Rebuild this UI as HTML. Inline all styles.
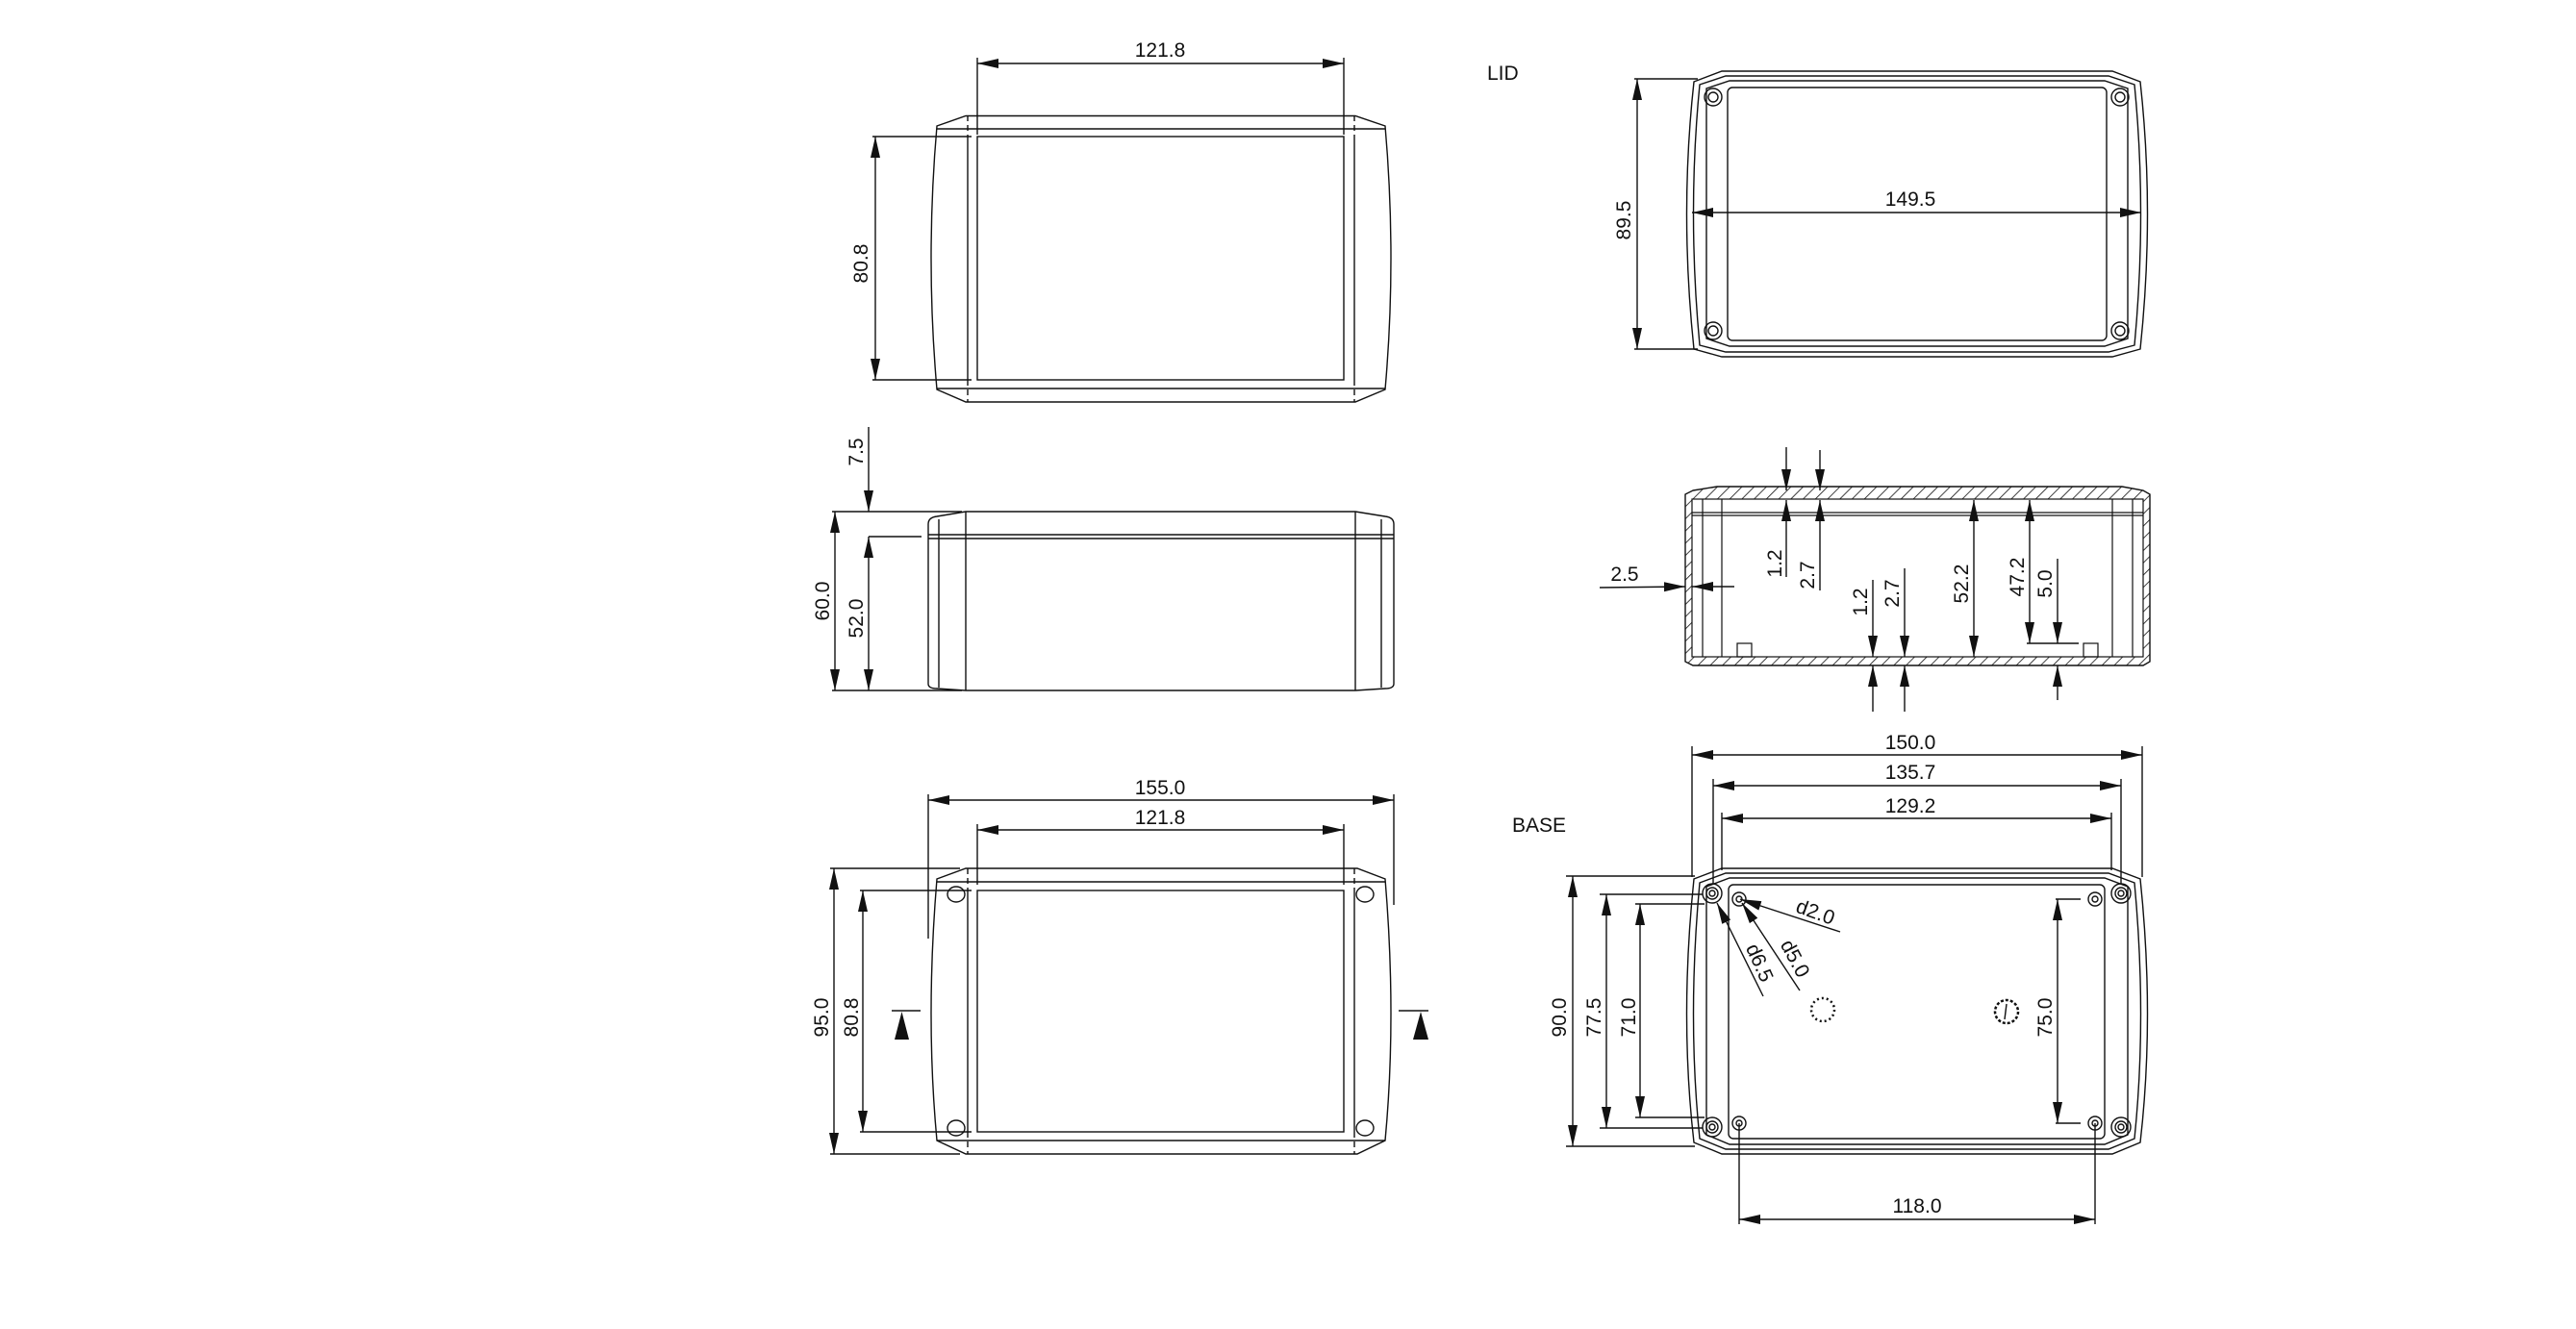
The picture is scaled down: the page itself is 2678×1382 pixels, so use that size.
<!DOCTYPE html>
<html><head><meta charset="utf-8"><style>
html,body{margin:0;padding:0;background:#fff}
svg{display:block}
text{font-family:"Liberation Sans",sans-serif;font-size:21px;fill:#111}
</style></head><body>
<svg width="2678" height="1382" viewBox="0 0 2678 1382" xmlns="http://www.w3.org/2000/svg">
<defs>
<marker id="a" markerUnits="userSpaceOnUse" markerWidth="24" markerHeight="12" refX="22" refY="5" orient="auto"><path d="M0,0 L22,5 L0,10 z" fill="#111"/></marker>
<marker id="b" markerUnits="userSpaceOnUse" markerWidth="24" markerHeight="12" refX="0" refY="5" orient="auto"><path d="M22,0 L0,5 L22,10 z" fill="#111"/></marker>
<pattern id="h" patternUnits="userSpaceOnUse" width="9" height="9" patternTransform="rotate(45)"><rect width="9" height="9" fill="#fff"/><line x1="0" y1="0" x2="0" y2="9" stroke="#111" stroke-width="1.6"/></pattern>
</defs>
<g fill="none" stroke="#111" stroke-width="1.4">

<path d="M1004,120.5 L1409,120.5 L1440,131 Q1452,269 1440,405 L1409,418 L1004,418 L974,405 Q962,269 974,131 Z"/>
<line x1="974" y1="134" x2="1440" y2="134"/>
<line x1="974" y1="404" x2="1440" y2="404"/>
<line x1="1006" y1="120" x2="1006" y2="142" stroke-dasharray="6,4"/>
<line x1="1006" y1="395" x2="1006" y2="418" stroke-dasharray="6,4"/>
<line x1="1408" y1="120" x2="1408" y2="142" stroke-dasharray="6,4"/>
<line x1="1408" y1="395" x2="1408" y2="418" stroke-dasharray="6,4"/>
<line x1="1006" y1="142" x2="1006" y2="395"/>
<line x1="1408" y1="142" x2="1408" y2="395"/>
<rect x="1016" y="142" width="381" height="253"/>
<line x1="1016" y1="66" x2="1397" y2="66" marker-start="url(#b)" marker-end="url(#a)"/>
<line x1="1016" y1="60" x2="1016" y2="140"/><line x1="1397" y1="60" x2="1397" y2="140"/>
<line x1="910" y1="142" x2="910" y2="395" marker-start="url(#b)" marker-end="url(#a)"/>
<line x1="907" y1="142" x2="1010" y2="142"/><line x1="907" y1="395" x2="1010" y2="395"/>

<path d="M1004,532 L1409,532 L1440,537 Q1449,538 1449,545 L1449,711 Q1449,716 1440,716 L1409,718 L1004,718 L974,716 Q965,716 965,711 L965,545 Q965,538 974,537 Z"/>
<line x1="965" y1="556" x2="1449" y2="556"/>
<line x1="965" y1="560" x2="1449" y2="560"/>
<line x1="976" y1="540" x2="976" y2="715"/><line x1="1436" y1="540" x2="1436" y2="715"/>
<line x1="1004" y1="532" x2="1004" y2="718"/><line x1="1409" y1="532" x2="1409" y2="718"/>
<line x1="903" y1="444" x2="903" y2="532" marker-end="url(#a)"/>
<line x1="865" y1="532" x2="1000" y2="532"/>
<line x1="868" y1="532" x2="868" y2="718" marker-start="url(#b)" marker-end="url(#a)"/>
<line x1="903" y1="558" x2="903" y2="718" marker-start="url(#b)" marker-end="url(#a)"/>
<line x1="903" y1="558" x2="958" y2="558"/>
<line x1="865" y1="718" x2="1000" y2="718"/>

<path d="M1004,903 L1411,903 L1440,914 Q1452,1058 1440,1186 L1411,1200 L1004,1200 L974,1186 Q962,1058 974,914 Z"/>
<line x1="974" y1="917" x2="1440" y2="917"/>
<line x1="974" y1="1186" x2="1440" y2="1186"/>
<line x1="1006" y1="903" x2="1006" y2="926" stroke-dasharray="6,4"/>
<line x1="1006" y1="1177" x2="1006" y2="1200" stroke-dasharray="6,4"/>
<line x1="1408" y1="903" x2="1408" y2="926" stroke-dasharray="6,4"/>
<line x1="1408" y1="1177" x2="1408" y2="1200" stroke-dasharray="6,4"/>
<line x1="1006" y1="926" x2="1006" y2="1177"/>
<line x1="1408" y1="926" x2="1408" y2="1177"/>
<rect x="1016" y="926" width="381" height="251"/>
<ellipse cx="994" cy="930" rx="9" ry="8"/><ellipse cx="1419" cy="930" rx="9" ry="8"/>
<ellipse cx="994" cy="1173" rx="9" ry="8"/><ellipse cx="1419" cy="1173" rx="9" ry="8"/>
<line x1="965" y1="832" x2="1449" y2="832" marker-start="url(#b)" marker-end="url(#a)"/>
<line x1="965" y1="826" x2="965" y2="976"/><line x1="1449" y1="826" x2="1449" y2="941"/>
<line x1="1016" y1="863" x2="1397" y2="863" marker-start="url(#b)" marker-end="url(#a)"/>
<line x1="1016" y1="857" x2="1016" y2="920"/><line x1="1397" y1="857" x2="1397" y2="920"/>
<line x1="867" y1="903" x2="867" y2="1200" marker-start="url(#b)" marker-end="url(#a)"/>
<line x1="863" y1="903" x2="998" y2="903"/><line x1="863" y1="1200" x2="998" y2="1200"/>
<line x1="897" y1="926" x2="897" y2="1177" marker-start="url(#b)" marker-end="url(#a)"/>
<line x1="894" y1="926" x2="1010" y2="926"/><line x1="894" y1="1177" x2="1010" y2="1177"/>
<line x1="927" y1="1051" x2="957" y2="1051"/>
<line x1="1454" y1="1051" x2="1485" y2="1051"/>
</g>
<path d="M937.5,1052 L930,1081 L945,1081 Z" fill="#111"/>
<path d="M1477,1052 L1469,1081 L1485,1081 Z" fill="#111"/>

<g fill="none" stroke="#111" stroke-width="1.4">
<path d="M1790,74 L2196,74 L2225,85 Q2240,221 2225,363 L2196,371 L1790,371 L1761,363 Q1746,221 1761,85 Z"/>
<path d="M1794,79 L2192,79 L2219,88 Q2232,221 2219,359 L2192,366 L1794,366 L1767,359 Q1754,221 1767,88 Z"/>
<path d="M1798,84 L2188,84 L2212,92 L2212,352 L2188,360 L1798,360 L1774,352 L1774,92 Z"/>
<rect x="1796" y="91" width="394" height="263" rx="5"/>
<circle cx="1781" cy="101" r="9"/><circle cx="1781" cy="101" r="5"/>
<circle cx="2204" cy="101" r="9"/><circle cx="2204" cy="101" r="5"/>
<circle cx="1781" cy="344" r="9"/><circle cx="1781" cy="344" r="5"/>
<circle cx="2204" cy="344" r="9"/><circle cx="2204" cy="344" r="5"/>
<line x1="1702" y1="82" x2="1702" y2="363" marker-start="url(#b)" marker-end="url(#a)"/>
<line x1="1699" y1="82" x2="1765" y2="82"/><line x1="1699" y1="363" x2="1765" y2="363"/>
<line x1="1759" y1="221" x2="2226" y2="221" marker-start="url(#b)" marker-end="url(#a)"/>
</g>

<path d="M1760,510 L1785,506 L2206,506 L2228,510 L2235,514 L2235,688 L2228,692 L1760,692 L1752,688 L1752,514 Z" fill="url(#h)" stroke="#111" stroke-width="1.4"/>
<rect x="1759" y="519" width="469" height="164" fill="#fff" stroke="#111" stroke-width="1.2"/>
<g fill="none" stroke="#111" stroke-width="1.2">
<line x1="1759" y1="533" x2="2228" y2="533"/><line x1="1759" y1="536" x2="2228" y2="536"/>
<line x1="1770" y1="519" x2="1770" y2="683"/><line x1="1790" y1="519" x2="1790" y2="683"/>
<line x1="2196" y1="519" x2="2196" y2="683"/><line x1="2217" y1="519" x2="2217" y2="683"/>
<rect x="1806" y="669" width="15" height="14"/><rect x="2166" y="669" width="15" height="14"/>
</g>
<g fill="none" stroke="#111" stroke-width="1.4">
<line x1="1857" y1="465" x2="1857" y2="510" marker-end="url(#a)"/>
<line x1="1857" y1="600" x2="1857" y2="520" marker-end="url(#a)"/>
<line x1="1892" y1="468" x2="1892" y2="510" marker-end="url(#a)"/>
<line x1="1892" y1="614" x2="1892" y2="520" marker-end="url(#a)"/>
<line x1="1663" y1="611" x2="1752" y2="610" marker-end="url(#a)"/>
<line x1="1803" y1="610" x2="1759" y2="610" marker-end="url(#a)"/>
<line x1="1947" y1="603" x2="1947" y2="683" marker-end="url(#a)"/>
<line x1="1947" y1="740" x2="1947" y2="692" marker-end="url(#a)"/>
<line x1="1980" y1="591" x2="1980" y2="683" marker-end="url(#a)"/>
<line x1="1980" y1="740" x2="1980" y2="692" marker-end="url(#a)"/>
<line x1="2052" y1="520" x2="2052" y2="683" marker-start="url(#b)" marker-end="url(#a)"/>
<line x1="2110" y1="520" x2="2110" y2="669" marker-start="url(#b)" marker-end="url(#a)"/>
<line x1="2107" y1="669" x2="2161" y2="669"/>
<line x1="2139" y1="581" x2="2139" y2="669" marker-end="url(#a)"/>
<line x1="2139" y1="728" x2="2139" y2="692" marker-end="url(#a)"/>

<path d="M1790,903 L2196,903 L2225,914 Q2240,1058 2225,1188 L2196,1200 L1790,1200 L1761,1188 Q1746,1058 1761,914 Z"/>
<path d="M1794,908 L2192,908 L2219,918 Q2232,1058 2219,1184 L2192,1195 L1794,1195 L1767,1184 Q1754,1058 1767,918 Z"/>
<path d="M1798,913 L2188,913 L2212,922 L2212,1180 L2188,1190 L1798,1190 L1774,1180 L1774,922 Z"/>
<rect x="1797" y="920" width="391" height="264" rx="5"/>
<circle cx="1780" cy="929" r="10"/><circle cx="1780" cy="929" r="6"/><circle cx="1780" cy="929" r="3"/>
<circle cx="2205" cy="929" r="10"/><circle cx="2205" cy="929" r="6"/><circle cx="2205" cy="929" r="3"/>
<circle cx="1780" cy="1172" r="10"/><circle cx="1780" cy="1172" r="6"/><circle cx="1780" cy="1172" r="3"/>
<circle cx="2205" cy="1172" r="10"/><circle cx="2205" cy="1172" r="6"/><circle cx="2205" cy="1172" r="3"/>
<circle cx="1808" cy="935" r="7"/><circle cx="1808" cy="935" r="3"/>
<circle cx="2178" cy="935" r="7"/><circle cx="2178" cy="935" r="3"/>
<circle cx="1808" cy="1168" r="7"/><circle cx="1808" cy="1168" r="3"/>
<circle cx="2178" cy="1168" r="7"/><circle cx="2178" cy="1168" r="3"/>
<circle cx="1895" cy="1050" r="12" stroke-dasharray="2,3" stroke-width="2.5"/>
<circle cx="2086" cy="1052" r="12" stroke-dasharray="3,2" stroke-width="2.5"/>
<line x1="2086" y1="1044" x2="2084" y2="1060"/>
<line x1="1759" y1="785" x2="2227" y2="785" marker-start="url(#b)" marker-end="url(#a)"/>
<line x1="1759" y1="776" x2="1759" y2="912"/><line x1="2227" y1="776" x2="2227" y2="912"/>
<line x1="1781" y1="817" x2="2205" y2="817" marker-start="url(#b)" marker-end="url(#a)"/>
<line x1="1781" y1="810" x2="1781" y2="920"/><line x1="2205" y1="810" x2="2205" y2="920"/>
<line x1="1790" y1="851" x2="2195" y2="851" marker-start="url(#b)" marker-end="url(#a)"/>
<line x1="1790" y1="845" x2="1790" y2="905"/><line x1="2195" y1="845" x2="2195" y2="905"/>
<line x1="1635" y1="911" x2="1635" y2="1192" marker-start="url(#b)" marker-end="url(#a)"/>
<line x1="1628" y1="911" x2="1762" y2="911"/><line x1="1628" y1="1192" x2="1762" y2="1192"/>
<line x1="1670" y1="930" x2="1670" y2="1173" marker-start="url(#b)" marker-end="url(#a)"/>
<line x1="1663" y1="930" x2="1770" y2="930"/><line x1="1663" y1="1173" x2="1770" y2="1173"/>
<line x1="1705" y1="940" x2="1705" y2="1162" marker-start="url(#b)" marker-end="url(#a)"/>
<line x1="1700" y1="940" x2="1772" y2="940"/><line x1="1700" y1="1162" x2="1772" y2="1162"/>
<line x1="2139" y1="935" x2="2139" y2="1168" marker-start="url(#b)" marker-end="url(#a)"/>
<line x1="2137" y1="935" x2="2163" y2="935"/><line x1="2137" y1="1168" x2="2163" y2="1168"/>
<line x1="1808" y1="1268" x2="2178" y2="1268" marker-start="url(#b)" marker-end="url(#a)"/>
<line x1="1808" y1="1168" x2="1808" y2="1273"/><line x1="2178" y1="1168" x2="2178" y2="1273"/>
<line x1="1913" y1="969" x2="1809" y2="935" marker-end="url(#a)"/>
<line x1="1871" y1="1030" x2="1811" y2="939" marker-end="url(#a)"/>
<line x1="1833" y1="1036" x2="1785" y2="939" marker-end="url(#a)"/>
</g>

<g text-anchor="middle">
<text x="1206" y="59">121.8</text>
<text transform="translate(902,274) rotate(-90)">80.8</text>
<text transform="translate(897,470) rotate(-90)">7.5</text>
<text transform="translate(862,625) rotate(-90)">60.0</text>
<text transform="translate(897,643) rotate(-90)">52.0</text>
<text x="1206" y="826">155.0</text>
<text x="1206" y="857">121.8</text>
<text transform="translate(861,1058) rotate(-90)">95.0</text>
<text transform="translate(892,1058) rotate(-90)">80.8</text>
<text transform="translate(1695,229) rotate(-90)">89.5</text>
<text x="1986" y="214">149.5</text>
<text x="1689" y="604">2.5</text>
<text transform="translate(1852,586) rotate(-90)">1.2</text>
<text transform="translate(1886,598) rotate(-90)">2.7</text>
<text transform="translate(1941,626) rotate(-90)">1.2</text>
<text transform="translate(1974,617) rotate(-90)">2.7</text>
<text transform="translate(2046,607) rotate(-90)">52.2</text>
<text transform="translate(2104,600) rotate(-90)">47.2</text>
<text transform="translate(2133,607) rotate(-90)">5.0</text>
<text x="1986" y="779">150.0</text>
<text x="1986" y="810">135.7</text>
<text x="1986" y="845">129.2</text>
<text transform="translate(1628,1058) rotate(-90)">90.0</text>
<text transform="translate(1664,1058) rotate(-90)">77.5</text>
<text transform="translate(1700,1058) rotate(-90)">71.0</text>
<text transform="translate(2133,1058) rotate(-90)">75.0</text>
<text x="1993" y="1261">118.0</text>
<text transform="translate(1885,955) rotate(20)">d2.0</text>
<text transform="translate(1860,1000) rotate(62)">d5.0</text>
<text transform="translate(1823,1004) rotate(66)">d6.5</text>
</g>
<text x="1546" y="83">LID</text>
<text x="1572" y="865">BASE</text>
</svg>
</body></html>
